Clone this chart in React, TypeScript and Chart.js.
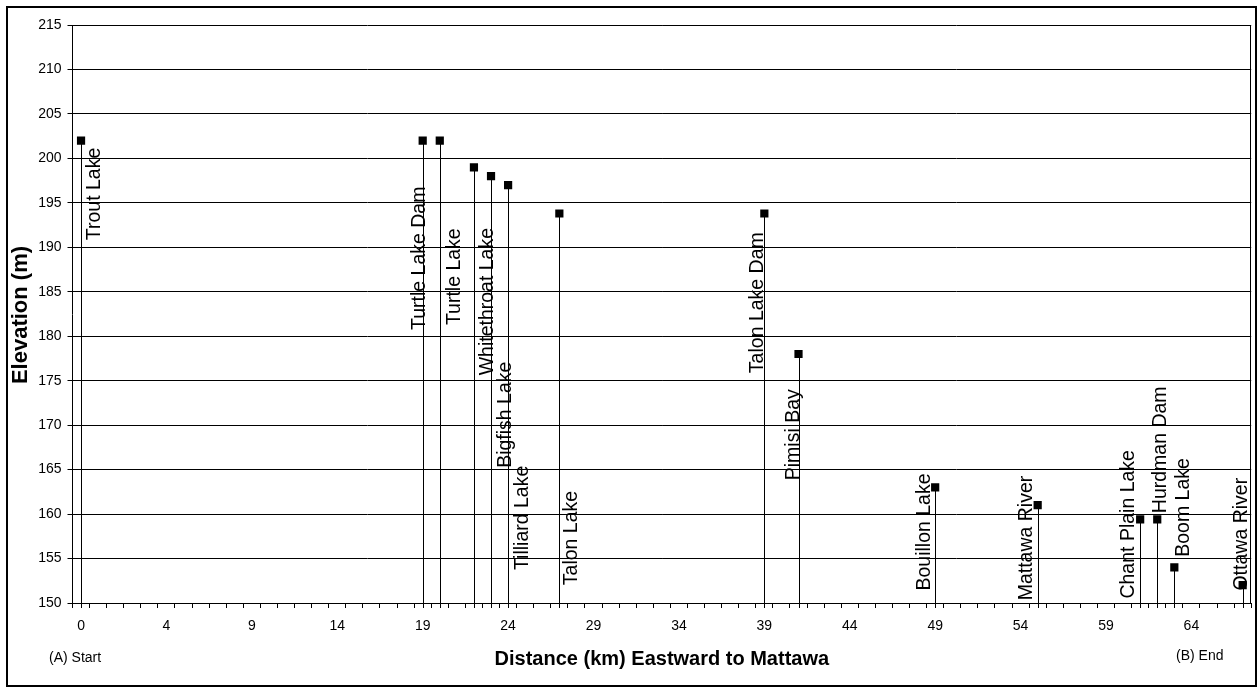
import { useEffect, useRef } from "react";
import { Chart, registerables } from "chart.js";

Chart.register(...registerables);

// ---- data ----
const places = [
  "Trout Lake",
  "Turtle Lake Dam",
  "Turtle Lake",
  "Whitethroat Lake",
  "Bigfish Lake",
  "Tilliard Lake",
  "Talon Lake",
  "Talon Lake Dam",
  "Pimisi Bay",
  "Bouillon Lake",
  "Mattawa River",
  "Chant Plain Lake",
  "Hurdman Dam",
  "Boom Lake",
  "Ottawa River",
];
// position along the distance axis (category index)
const distances = [0, 20, 21, 23, 24, 25, 28, 40, 42, 50, 56, 62, 63, 64, 68];
const elevations = [202, 202, 202, 199, 198, 197, 193.8, 193.8, 178, 163, 161, 159.4, 159.4, 154, 152];
const xTickLabels = ["0", "4", "9", "14", "19", "24", "29", "34", "39", "44", "49", "54", "59", "64"];
const xTickEvery = 5;
const yMin = 150;
const yMax = 215;
const yStep = 5;

// ---- label placement (layout) ----
const labelBaseElev = [190.8, 180.7, 181.25, 175.6, 165.2, 153.7, 152.0, 175.85, 163.8, 151.4, 150.3, 150.5, 160.1, 155.2, 151.4];
const labelDx = [13.5, -3, 14.4, 13.5, 15, 14.8, 12.7, -6.8, -4.5, -11, -10.6, -11.3, 3.3, 8.8, -0.7];

const FONT = "'Liberation Sans', Arial, sans-serif";

const overlay = {
  id: "overlay",
  beforeDatasetsDraw(chart: any) {
    const { ctx, chartArea, scales } = chart;
    const x = scales.x;
    const y = scales.y;
    ctx.save();
    ctx.strokeStyle = "#000";
    ctx.lineWidth = 1;
    distances.forEach((d, i) => {
      const px = Math.round(x.getPixelForValue(d)) + 0.5;
      const py = y.getPixelForValue(elevations[i]);
      ctx.beginPath();
      ctx.moveTo(px, py);
      ctx.lineTo(px, chartArea.bottom + 5);
      ctx.stroke();
    });
    ctx.restore();
  },
  afterDraw(chart: any) {
    const { ctx, chartArea, scales } = chart;
    const x = scales.x;
    const y = scales.y;
    ctx.save();
    // plot area right border
    ctx.strokeStyle = "#000";
    ctx.lineWidth = 1;
    const rx = Math.round(chartArea.right) - 0.5;
    ctx.beginPath();
    ctx.moveTo(rx, chartArea.top);
    ctx.lineTo(rx, chartArea.bottom);
    ctx.stroke();

    // data labels (rotated)
    ctx.fillStyle = "#000";
    ctx.font = `19.5px ${FONT}`;
    ctx.textAlign = "left";
    ctx.textBaseline = "middle";
    places.forEach((name, i) => {
      const px = x.getPixelForValue(distances[i]) + labelDx[i];
      const py = y.getPixelForValue(labelBaseElev[i]);
      ctx.save();
      ctx.translate(px, py);
      ctx.rotate(-Math.PI / 2);
      ctx.fillText(name, 0, 0);
      ctx.restore();
    });

    // x axis title
    ctx.font = `bold 20px ${FONT}`;
    ctx.textAlign = "center";
    ctx.textBaseline = "alphabetic";
    ctx.fillText("Distance (km) Eastward to Mattawa", (chartArea.left + chartArea.right) / 2, 665);

    // y axis title
    ctx.save();
    ctx.translate(27, 315);
    ctx.rotate(-Math.PI / 2);
    ctx.font = `bold 22px ${FONT}`;
    ctx.textAlign = "center";
    ctx.textBaseline = "alphabetic";
    ctx.fillText("Elevation (m)", 0, 0);
    ctx.restore();

    // start / end annotations
    ctx.font = `14px ${FONT}`;
    ctx.textAlign = "left";
    ctx.textBaseline = "alphabetic";
    ctx.fillText("(A) Start", 49, 662);
    ctx.fillText("(B) End", 1176, 660);

    // outer border
    ctx.lineWidth = 2;
    ctx.strokeRect(7, 7, 1249, 679);
    ctx.restore();
  },
};

export default function App() {
  const ref = useRef<HTMLCanvasElement>(null);

  useEffect(() => {
    if (!ref.current) return;
    Chart.defaults.font.family = FONT;
    const halfTicks: number[] = [];
    for (let v = -0.5; v <= 68.5; v += 1) halfTicks.push(v);
    const labelTicks = xTickLabels.map((_, i) => i * xTickEvery);

    const chart = new Chart(ref.current, {
      type: "scatter",
      data: {
        datasets: [
          {
            data: distances.map((d, i) => ({ x: d, y: elevations[i] })),
            pointStyle: "rect",
            pointRadius: 5.8,
            pointHoverRadius: 5.8,
            backgroundColor: "#000",
            borderColor: "#000",
            borderWidth: 0,
            showLine: false,
          },
        ],
      },
      options: {
        responsive: true,
        maintainAspectRatio: false,
        animation: false,
        events: [],
        layout: { padding: { left: 0, top: 25, right: 5, bottom: 0 } },
        plugins: {
          legend: { display: false },
          tooltip: { enabled: false },
          title: { display: false },
        },
        scales: {
          x: {
            type: "linear",
            min: -0.5,
            max: 68.5,
            afterBuildTicks: (scale: any) => {
              const vals = [...halfTicks, ...labelTicks].sort((a, b) => a - b);
              scale.ticks = vals.map((v) => ({ value: v }));
            },
            afterFit: (scale: any) => {
              scale.height = 84;
              scale.paddingLeft = 0;
              scale.paddingRight = 0;
            },
            ticks: {
              autoSkip: false,
              maxRotation: 0,
              minRotation: 0,
              padding: 10,
              color: "#000",
              font: { size: 14, family: FONT },
              callback: (v: any) => {
                const i = Number(v) / xTickEvery;
                return Number.isInteger(i) && i >= 0 && i < xTickLabels.length ? xTickLabels[i] : "";
              },
            },
            grid: {
              drawOnChartArea: false,
              tickLength: 5,
              tickColor: (c: any) => (c.tick && Number.isInteger(c.tick.value) ? "rgba(0,0,0,0)" : "#000"),
            },
            border: { display: true, color: "#000", width: 1 },
          },
          y: {
            type: "linear",
            min: yMin,
            max: yMax,
            afterFit: (scale: any) => {
              scale.width = 72.5;
              scale.paddingTop = 0;
              scale.paddingBottom = 0;
            },
            ticks: {
              stepSize: yStep,
              padding: 6,
              color: "#000",
              font: { size: 14, family: FONT },
            },
            grid: {
              color: "#000",
              lineWidth: 1,
              tickLength: 5,
              tickColor: "#000",
            },
            border: { display: true, color: "#000", width: 1 },
          },
        },
      },
      plugins: [overlay],
    } as any);

    return () => chart.destroy();
  }, []);

  return (
    <div style={{ position: "absolute", left: 0, top: 0, width: 1257, height: 687, background: "#fff" }}>
      <canvas ref={ref} />
    </div>
  );
}
